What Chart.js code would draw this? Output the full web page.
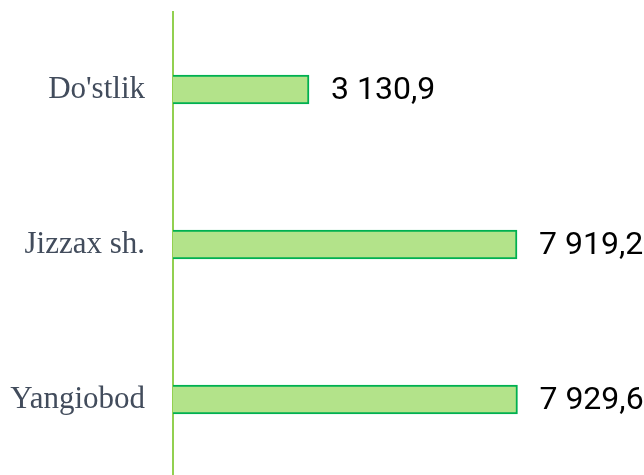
<!DOCTYPE html>
<html>
<head>
<meta charset="utf-8">
<script src="https://cdn.jsdelivr.net/npm/chart.js@4.4.1/dist/chart.umd.min.js"></script>
<style>
  html, body { margin: 0; padding: 0; background: #fff; overflow: hidden; }
</style>
</head>
<body>
<canvas id="bar-chart" width="644" height="480"></canvas>
<script>
var categories = ["Do'stlik", "Jizzax sh.", "Yangiobod"];
var values = [3130.9, 7919.2, 7929.6];

// "3 130,9" style numbers
function fmt(v) {
  var parts = v.toFixed(1).split(".");
  var intPart = parts[0].replace(/\B(?=(\d{3})+(?!\d))/g, " ");
  return intPart + "," + parts[1];
}

var valueLabels = {
  id: "valueLabels",
  afterDatasetsDraw: function (chart) {
    var ctx = chart.ctx;
    var meta = chart.getDatasetMeta(0);
    ctx.save();
    ctx.font = "32px Roboto";
    ctx.fillStyle = "#000000";
    ctx.textAlign = "left";
    ctx.textBaseline = "middle";
    meta.data.forEach(function (bar, i) {
      ctx.fillText(fmt(values[i]), bar.x + 22, bar.y + 1);
    });
    ctx.restore();
  },
};

var config = {
  type: "bar",
  data: {
    labels: categories,
    datasets: [
      {
        data: values,
        backgroundColor: "#b3e38a",
        borderColor: "#00b050",
        borderWidth: 2,
        borderSkipped: "start",
        barThickness: 29,
      },
    ],
  },
  options: {
    indexAxis: "y",
    responsive: false,
    animation: false,
    layout: {
      padding: { top: 12, bottom: 3, left: 0, right: 36.6 },
    },
    plugins: {
      legend: { display: false },
      tooltip: { enabled: false },
    },
    scales: {
      x: {
        display: false,
        min: 0,
        max: 10000,
      },
      y: {
        afterFit: function (scale) {
          scale.width = 173;
          scale.paddingTop = 0;
          scale.paddingBottom = 0;
        },
        grid: { display: false, drawTicks: false },
        border: { display: true, color: "#92d050", width: 2 },
        ticks: {
          padding: 28,
          color: "#424c5c",
          font: { family: "'Liberation Serif'", size: 31 },
        },
      },
    },
  },
  plugins: [valueLabels],
};

var myBarChart = new Chart(document.getElementById("bar-chart"), config);
</script>
</body>
</html>
